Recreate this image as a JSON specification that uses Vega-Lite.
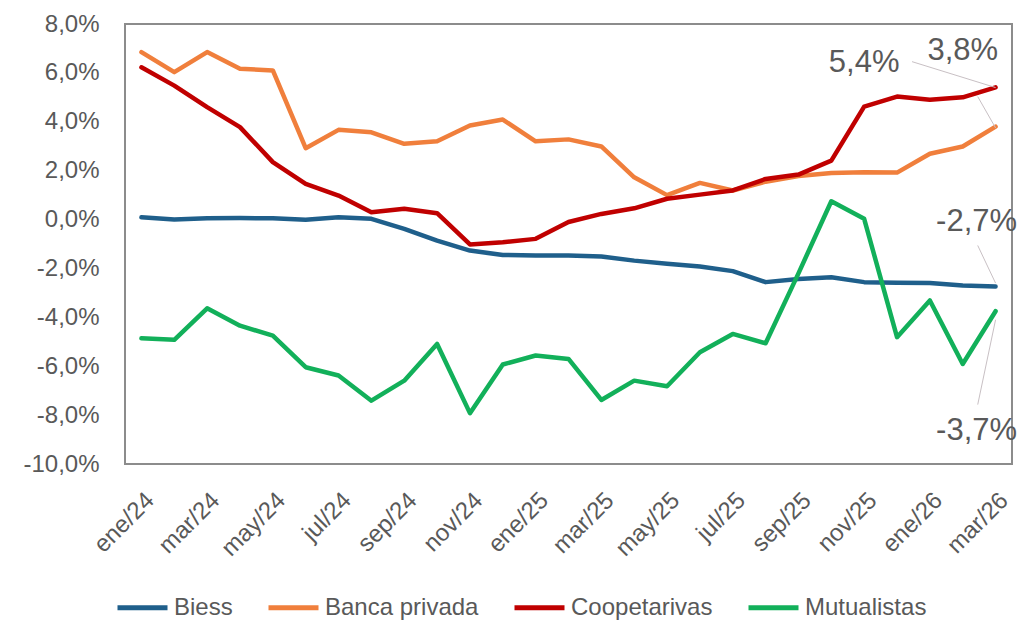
{
  "$schema": "https://vega.github.io/schema/vega-lite/v6.json",
  "width": 887,
  "height": 440,
  "autosize": {"type": "none"},
  "padding": {"left": 125, "top": 24, "right": 8, "bottom": 157},
  "background": "white",
  "config": {
    "font": "Liberation Sans",
    "view": {"stroke": "#8c8c8c", "strokeWidth": 2}
  },
  "datasets": {
    "series": [
      {"month": "ene/24", "serie": "Biess", "value": 0.09},
      {"month": "feb/24", "serie": "Biess", "value": 0.0},
      {"month": "mar/24", "serie": "Biess", "value": 0.05},
      {"month": "abr/24", "serie": "Biess", "value": 0.06},
      {"month": "may/24", "serie": "Biess", "value": 0.05},
      {"month": "jun/24", "serie": "Biess", "value": -0.01},
      {"month": "jul/24", "serie": "Biess", "value": 0.09},
      {"month": "ago/24", "serie": "Biess", "value": 0.03},
      {"month": "sep/24", "serie": "Biess", "value": -0.38},
      {"month": "oct/24", "serie": "Biess", "value": -0.86},
      {"month": "nov/24", "serie": "Biess", "value": -1.27},
      {"month": "dic/24", "serie": "Biess", "value": -1.45},
      {"month": "ene/25", "serie": "Biess", "value": -1.47},
      {"month": "feb/25", "serie": "Biess", "value": -1.47},
      {"month": "mar/25", "serie": "Biess", "value": -1.51},
      {"month": "abr/25", "serie": "Biess", "value": -1.68},
      {"month": "may/25", "serie": "Biess", "value": -1.81},
      {"month": "jun/25", "serie": "Biess", "value": -1.92},
      {"month": "jul/25", "serie": "Biess", "value": -2.11},
      {"month": "ago/25", "serie": "Biess", "value": -2.56},
      {"month": "sep/25", "serie": "Biess", "value": -2.43},
      {"month": "oct/25", "serie": "Biess", "value": -2.36},
      {"month": "nov/25", "serie": "Biess", "value": -2.56},
      {"month": "dic/25", "serie": "Biess", "value": -2.59},
      {"month": "ene/26", "serie": "Biess", "value": -2.6},
      {"month": "feb/26", "serie": "Biess", "value": -2.7},
      {"month": "mar/26", "serie": "Biess", "value": -2.74},
      {"month": "ene/24", "serie": "Banca privada", "value": 6.85},
      {"month": "feb/24", "serie": "Banca privada", "value": 6.03},
      {"month": "mar/24", "serie": "Banca privada", "value": 6.85},
      {"month": "abr/24", "serie": "Banca privada", "value": 6.17},
      {"month": "may/24", "serie": "Banca privada", "value": 6.1},
      {"month": "jun/24", "serie": "Banca privada", "value": 2.92},
      {"month": "jul/24", "serie": "Banca privada", "value": 3.67},
      {"month": "ago/24", "serie": "Banca privada", "value": 3.57},
      {"month": "sep/24", "serie": "Banca privada", "value": 3.1},
      {"month": "oct/24", "serie": "Banca privada", "value": 3.2},
      {"month": "nov/24", "serie": "Banca privada", "value": 3.85},
      {"month": "dic/24", "serie": "Banca privada", "value": 4.09},
      {"month": "ene/25", "serie": "Banca privada", "value": 3.2},
      {"month": "feb/25", "serie": "Banca privada", "value": 3.28},
      {"month": "mar/25", "serie": "Banca privada", "value": 2.99},
      {"month": "abr/25", "serie": "Banca privada", "value": 1.73},
      {"month": "may/25", "serie": "Banca privada", "value": 1.0},
      {"month": "jun/25", "serie": "Banca privada", "value": 1.5},
      {"month": "jul/25", "serie": "Banca privada", "value": 1.19},
      {"month": "ago/25", "serie": "Banca privada", "value": 1.55},
      {"month": "sep/25", "serie": "Banca privada", "value": 1.78},
      {"month": "oct/25", "serie": "Banca privada", "value": 1.9},
      {"month": "nov/25", "serie": "Banca privada", "value": 1.94},
      {"month": "dic/25", "serie": "Banca privada", "value": 1.92},
      {"month": "ene/26", "serie": "Banca privada", "value": 2.69},
      {"month": "feb/26", "serie": "Banca privada", "value": 2.99},
      {"month": "mar/26", "serie": "Banca privada", "value": 3.8},
      {"month": "ene/24", "serie": "Coopetarivas", "value": 6.23},
      {"month": "feb/24", "serie": "Coopetarivas", "value": 5.48},
      {"month": "mar/24", "serie": "Coopetarivas", "value": 4.6},
      {"month": "abr/24", "serie": "Coopetarivas", "value": 3.78},
      {"month": "may/24", "serie": "Coopetarivas", "value": 2.35},
      {"month": "jun/24", "serie": "Coopetarivas", "value": 1.46},
      {"month": "jul/24", "serie": "Coopetarivas", "value": 0.98},
      {"month": "ago/24", "serie": "Coopetarivas", "value": 0.3},
      {"month": "sep/24", "serie": "Coopetarivas", "value": 0.44},
      {"month": "oct/24", "serie": "Coopetarivas", "value": 0.26},
      {"month": "nov/24", "serie": "Coopetarivas", "value": -1.02},
      {"month": "dic/24", "serie": "Coopetarivas", "value": -0.93},
      {"month": "ene/25", "serie": "Coopetarivas", "value": -0.79},
      {"month": "feb/25", "serie": "Coopetarivas", "value": -0.1},
      {"month": "mar/25", "serie": "Coopetarivas", "value": 0.23},
      {"month": "abr/25", "serie": "Coopetarivas", "value": 0.46},
      {"month": "may/25", "serie": "Coopetarivas", "value": 0.85},
      {"month": "jun/25", "serie": "Coopetarivas", "value": 1.02},
      {"month": "jul/25", "serie": "Coopetarivas", "value": 1.19},
      {"month": "ago/25", "serie": "Coopetarivas", "value": 1.66},
      {"month": "sep/25", "serie": "Coopetarivas", "value": 1.84},
      {"month": "oct/25", "serie": "Coopetarivas", "value": 2.41},
      {"month": "nov/25", "serie": "Coopetarivas", "value": 4.62},
      {"month": "dic/25", "serie": "Coopetarivas", "value": 5.03},
      {"month": "ene/26", "serie": "Coopetarivas", "value": 4.9},
      {"month": "feb/26", "serie": "Coopetarivas", "value": 5.0},
      {"month": "mar/26", "serie": "Coopetarivas", "value": 5.41},
      {"month": "ene/24", "serie": "Mutualistas", "value": -4.86},
      {"month": "feb/24", "serie": "Mutualistas", "value": -4.92},
      {"month": "mar/24", "serie": "Mutualistas", "value": -3.63},
      {"month": "abr/24", "serie": "Mutualistas", "value": -4.34},
      {"month": "may/24", "serie": "Mutualistas", "value": -4.75},
      {"month": "jun/24", "serie": "Mutualistas", "value": -6.04},
      {"month": "jul/24", "serie": "Mutualistas", "value": -6.38},
      {"month": "ago/24", "serie": "Mutualistas", "value": -7.41},
      {"month": "sep/24", "serie": "Mutualistas", "value": -6.59},
      {"month": "oct/24", "serie": "Mutualistas", "value": -5.09},
      {"month": "nov/24", "serie": "Mutualistas", "value": -7.92},
      {"month": "dic/24", "serie": "Mutualistas", "value": -5.93},
      {"month": "ene/25", "serie": "Mutualistas", "value": -5.56},
      {"month": "feb/25", "serie": "Mutualistas", "value": -5.7},
      {"month": "mar/25", "serie": "Mutualistas", "value": -7.38},
      {"month": "abr/25", "serie": "Mutualistas", "value": -6.59},
      {"month": "may/25", "serie": "Mutualistas", "value": -6.82},
      {"month": "jun/25", "serie": "Mutualistas", "value": -5.43},
      {"month": "jul/25", "serie": "Mutualistas", "value": -4.68},
      {"month": "ago/25", "serie": "Mutualistas", "value": -5.06},
      {"month": "sep/25", "serie": "Mutualistas", "value": -2.2},
      {"month": "oct/25", "serie": "Mutualistas", "value": 0.75},
      {"month": "nov/25", "serie": "Mutualistas", "value": 0.03},
      {"month": "dic/25", "serie": "Mutualistas", "value": -4.81},
      {"month": "ene/26", "serie": "Mutualistas", "value": -3.31},
      {"month": "feb/26", "serie": "Mutualistas", "value": -5.91},
      {"month": "mar/26", "serie": "Mutualistas", "value": -3.75}
    ],
    "leaders": [
      {"month": "dic/25", "month2": "mar/26", "value": 6.46, "value2": 5.4},
      {"month": "feb/26", "month2": "mar/26", "value": 5.03, "value2": 3.75},
      {"month": "feb/26", "month2": "mar/26", "value": -1.06, "value2": -2.6},
      {"month": "feb/26", "month2": "mar/26", "value": -7.57, "value2": -4.1}
    ],
    "topLabels": [
      {"month": "nov/25", "value": 6.42, "label": "5,4%"},
      {"month": "feb/26", "value": 6.91, "label": "3,8%"}
    ],
    "rightLabels": [
      {"month": "mar/26", "value": -0.08, "label": "-2,7%"},
      {"month": "mar/26", "value": -8.63, "label": "-3,7%"}
    ]
  },
  "encoding": {
    "x": {
      "field": "month",
      "type": "ordinal",
      "sort": null,
      "scale": {
        "type": "point",
        "padding": 0.5,
        "domain": ["ene/24","feb/24","mar/24","abr/24","may/24","jun/24","jul/24","ago/24","sep/24","oct/24","nov/24","dic/24","ene/25","feb/25","mar/25","abr/25","may/25","jun/25","jul/25","ago/25","sep/25","oct/25","nov/25","dic/25","ene/26","feb/26","mar/26"]
      },
      "axis": {
        "title": null,
        "values": ["ene/24","mar/24","may/24","jul/24","sep/24","nov/24","ene/25","mar/25","may/25","jul/25","sep/25","nov/25","ene/26","mar/26"],
        "labelAngle": -45,
        "labelFontSize": 24,
        "labelColor": "#595959",
        "labelPadding": 24,
        "ticks": false,
        "domain": false,
        "grid": false
      }
    },
    "y": {
      "field": "value",
      "type": "quantitative",
      "scale": {"domain": [-10, 8], "nice": false, "zero": false},
      "axis": {
        "title": null,
        "values": [-10, -8, -6, -4, -2, 0, 2, 4, 6, 8],
        "labelExpr": "replace(replace(format(datum.value, '.1f'), '.', ','), '\u2212', '-') + '%'",
        "labelFontSize": 24,
        "labelColor": "#595959",
        "labelPadding": 26,
        "ticks": false,
        "domain": false,
        "grid": false
      }
    }
  },
  "layer": [
    {
      "mark": {"type": "rule", "color": "#d0d0d0", "strokeWidth": 1},
      "encoding": {"y": {"datum": 0}, "x": null}
    },
    {
      "data": {"name": "series"},
      "mark": {"type": "line", "strokeWidth": 4.5, "strokeJoin": "round", "strokeCap": "round"},
      "encoding": {
        "color": {
          "field": "serie",
          "type": "nominal",
          "sort": ["Biess", "Banca privada", "Coopetarivas", "Mutualistas"],
          "scale": {
            "domain": ["Biess", "Banca privada", "Coopetarivas", "Mutualistas"],
            "range": ["#1f5f8b", "#f07f3c", "#c00000", "#12b05a"]
          },
          "legend": {
            "title": null,
            "orient": "none",
            "direction": "horizontal",
            "legendX": -10,
            "legendY": 556,
            "symbolType": "stroke",
            "symbolSize": 2500,
            "symbolStrokeWidth": 5,
            "labelFontSize": 24,
            "labelColor": "#595959",
            "labelOffset": 4,
            "columnPadding": 25
          }
        }
      }
    },
    {
      "data": {"name": "leaders"},
      "mark": {"type": "rule", "color": "#c8c0c4", "strokeWidth": 1, "xOffset": 15},
      "encoding": {
        "x2": {"field": "month2"},
        "y2": {"field": "value2"}
      }
    },
    {
      "data": {"name": "topLabels"},
      "mark": {"type": "text", "fontSize": 31, "color": "#595959", "align": "center", "baseline": "middle"},
      "encoding": {"text": {"field": "label"}}
    },
    {
      "data": {"name": "rightLabels"},
      "mark": {"type": "text", "fontSize": 31, "color": "#595959", "align": "center", "baseline": "middle", "dx": -19},
      "encoding": {"text": {"field": "label"}}
    }
  ]
}
